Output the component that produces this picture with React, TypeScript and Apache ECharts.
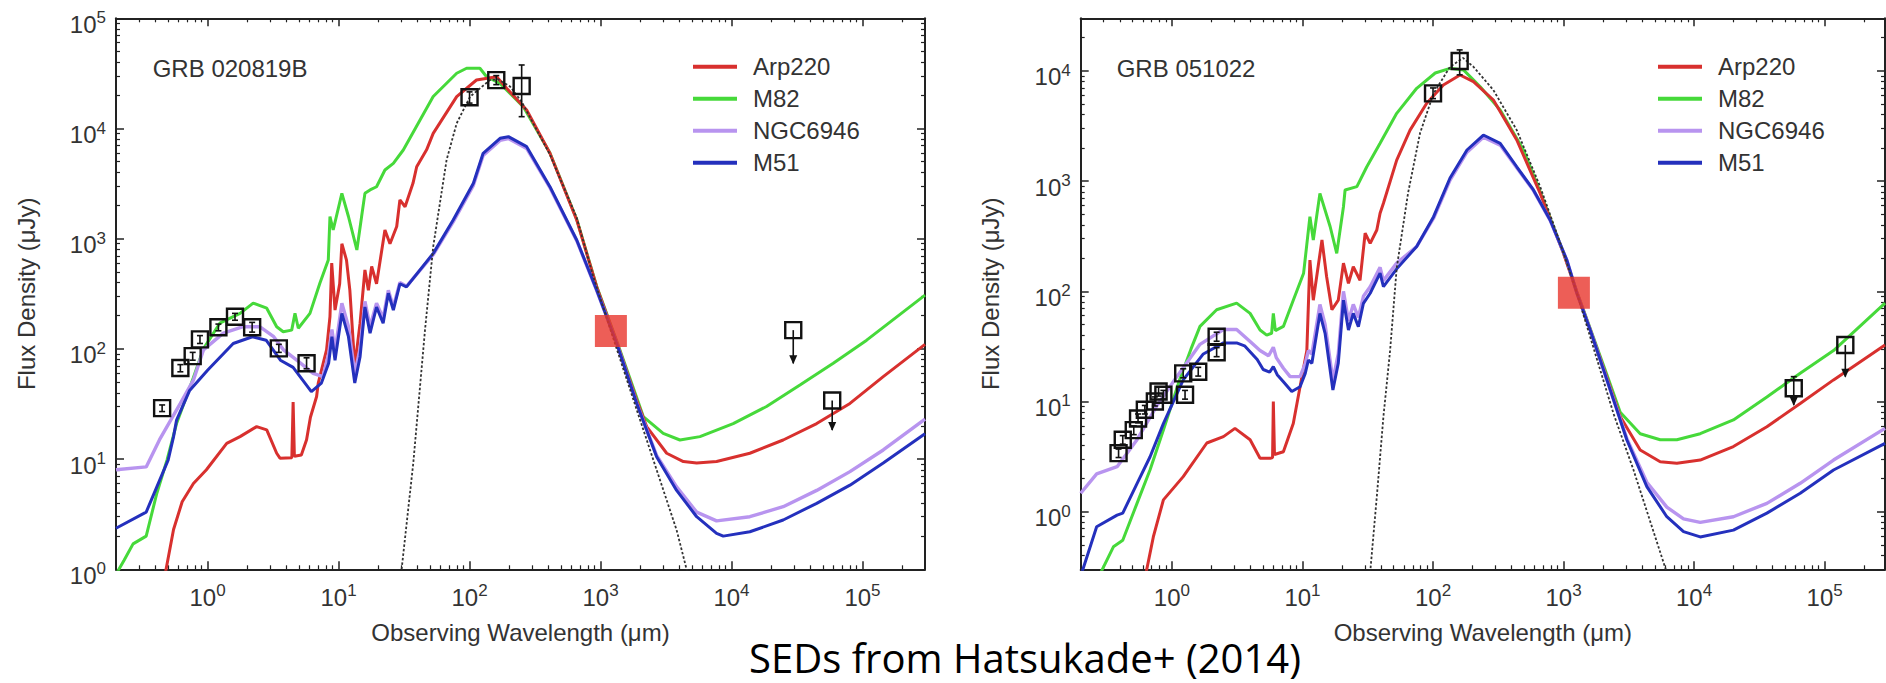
import React, { useEffect, useRef } from 'react';
import * as echarts from 'echarts';

const FONT = "'Liberation Sans', Arial, Helvetica, sans-serif";

// ---------- Data (wavelength in um, flux density in uJy) ----------
const templateNames = ['Arp220', 'M82', 'NGC6946', 'M51'];

// GRB 020819B
const grbA_Arp220 = [
  [0.47, 0.85], [0.55, 2.3], [0.64, 4.1], [0.78, 6.0], [0.98, 8.0], [1.4, 13.9], [1.77, 16], [2.37, 19.7],
  [2.83, 18.4], [3.37, 11.3], [3.57, 10.2], [4.4, 10.3], [4.5, 33], [4.6, 10.6], [5.2, 10.9], [5.7, 15],
  [6.1, 24], [6.8, 37], [7.0, 49], [8.1, 98], [8.6, 196], [8.87, 600], [9.4, 225], [10.2, 390], [10.6, 900],
  [11.5, 640], [12.2, 340], [13.3, 69], [14.6, 171], [15.9, 520], [16.9, 340], [17.9, 560], [19.5, 390],
  [22.6, 1200], [24.7, 900], [27.8, 1290], [29.4, 2250], [32.2, 1950], [37, 3180], [39.5, 4500], [47, 6400],
  [52.8, 9040], [79.8, 19450], [113, 27540], [161, 29500], [192, 23170], [273, 14720], [411, 5960],
  [658, 1480], [934, 367], [1330, 115], [1890, 34], [2250, 19.7], [3200, 11.3], [4290, 9.5], [5420, 9.2],
  [7690, 9.5], [13800, 11.3], [24800, 14.9], [44700, 21], [80200, 32], [144000, 56], [300000, 110],
];
const grbA_M82 = [
  [0.2, 0.9], [0.23, 1.2], [0.27, 1.7], [0.34, 2.0], [0.41, 4.9], [0.49, 9.8], [0.58, 21], [0.78, 55],
  [0.93, 100], [1.24, 171], [1.77, 210], [2.23, 260], [2.83, 234], [3.37, 159], [3.78, 143], [4.39, 148],
  [4.65, 210], [4.93, 154], [6.05, 210], [7.2, 394], [8.35, 640], [8.6, 1590], [9.1, 1200], [10.6, 2580],
  [11.9, 1590], [13.8, 790], [15.0, 1590], [15.9, 2580], [17.4, 2770], [19.5, 2960], [22.6, 4200],
  [26.2, 4830], [31.2, 6380], [41.8, 11900], [52.8, 19500], [79.8, 31700], [95, 35200], [120, 35200],
  [135, 29500], [171, 25700], [257, 15800], [411, 6000], [658, 1500], [934, 370], [1330, 118], [1890, 36],
  [2120, 24.3], [3010, 17.1], [4040, 14.9], [5740, 16], [10300, 21], [18500, 30], [33300, 47], [59800, 74],
  [107600, 120], [300000, 308],
];
const grbA_NGC6946 = [
  [0.2, 8.0], [0.34, 8.5], [0.43, 15], [0.62, 32], [0.78, 52], [0.93, 98], [1.32, 139], [1.87, 159],
  [2.5, 159], [3.2, 129], [3.8, 98], [4.8, 79], [6.4, 60], [7.6, 56], [8.4, 90], [8.9, 150], [9.4, 95],
  [10.6, 260], [11.9, 160], [13.3, 60], [14.6, 100], [15.9, 270], [17.4, 160], [19.5, 260], [21.9, 190],
  [24, 340], [26.2, 240], [29.4, 400], [33, 370], [53, 720], [75, 1420], [107, 3050], [127, 5700],
  [171, 7800], [198, 8100], [273, 6600], [411, 2900], [658, 960], [934, 340], [1330, 112], [1890, 32],
  [2680, 10.8], [3810, 5.6], [5420, 3.3], [7690, 2.75], [13800, 3.0], [24800, 3.7], [44700, 5.2],
  [80200, 7.7], [144000, 12.1], [300000, 23],
];
const grbA_M51 = [
  [0.2, 2.36], [0.34, 3.3], [0.41, 5.6], [0.5, 9.8], [0.55, 16], [0.58, 22.6], [0.73, 42], [1.0, 64],
  [1.57, 112], [2.2, 129], [2.8, 120], [3.6, 79], [4.5, 68], [6.2, 41], [7.4, 49], [8.4, 74], [8.9, 129],
  [9.4, 79], [10.6, 210], [11.9, 129], [13.3, 49], [14.6, 85], [15.9, 240], [17.4, 139], [19.5, 240],
  [21.9, 171], [24, 320], [26.2, 225], [29.4, 390], [33, 365], [53, 740], [75, 1480], [107, 3180],
  [127, 5960], [171, 8150], [198, 8430], [273, 6840], [411, 2965], [658, 973], [934, 342], [1330, 112],
  [1890, 32], [2680, 10.5], [3810, 5.2], [5420, 3.0], [7690, 2.12], [8650, 2.0], [13800, 2.19],
  [24800, 2.8], [44700, 3.97], [80200, 5.8], [144000, 9.2], [300000, 17],
];
const grbA_dust = [
  [30.3, 1.0], [37.2, 9.2], [45.7, 148], [52.8, 846], [66.8, 5180], [79.8, 11150], [101, 19450],
  [143, 27500], [165, 28000], [204, 24000], [250, 17500], [411, 5800], [658, 1550], [881, 452],
  [1200, 145], [1890, 28], [2680, 8.0], [3810, 2.27], [4540, 1.0], [4800, 0.8],
];
// [wavelength, flux, low, high, upperLimit]
const grbA_obs = [
  [0.45, 29, 27, 31, 0], [0.62, 67, 62, 72, 0], [0.77, 86, 79, 93, 0], [0.875, 122, 112, 132, 0],
  [1.21, 157, 146, 168, 0], [1.62, 196, 182, 210, 0], [2.19, 157, 142, 174, 0], [3.5, 101, 93, 110, 0],
  [5.7, 74, 66, 83, 0], [100, 19200, 17000, 21500, 0], [160, 27500, 25000, 30200, 0],
  [250, 24300, 12800, 37700, 0], [29600, 148, 74, 148, 1], [58700, 34, 18.4, 34, 1],
];
const grbA_alma = [[1200, 145]];

// GRB 051022
const grbB_Arp220 = [
  [0.63, 0.27], [0.72, 0.59], [0.86, 1.28], [1.22, 2.08], [1.85, 4.2], [2.48, 4.8], [3.04, 5.7], [3.97, 4.5],
  [4.73, 3.05], [5.65, 3.05], [5.9, 3.1], [5.98, 10], [6.1, 3.3], [7.14, 3.5], [8.5, 6.3], [9.58, 13.6],
  [10.8, 29], [11.4, 192], [12.1, 83], [14.1, 292], [15.3, 136], [16.8, 68], [18.8, 83], [20.6, 180],
  [22.5, 118], [24.5, 167], [27.6, 126], [30.2, 336], [33, 272], [37.1, 360], [39.3, 510], [41.7, 630],
  [52.7, 1550], [66.7, 2900], [89.5, 5080], [120, 7450], [161, 9180], [204, 7980], [290, 5440], [438, 2360],
  [662, 774], [998, 221], [1265, 98], [1600, 45], [2148, 16.5], [2716, 7.3], [3864, 3.63], [5500, 2.84],
  [7380, 2.75], [11140, 2.94], [20000, 3.9], [36100, 5.9], [65000, 9.6], [117000, 15.7], [290000, 32.5],
];
const grbB_M82 = [
  [0.285, 0.28], [0.356, 0.48], [0.42, 0.55], [0.54, 1.19], [0.68, 2.4], [0.86, 5.5], [1.15, 16], [1.4, 30],
  [1.64, 48], [2.2, 68], [3.13, 78], [3.97, 63], [4.73, 44.5], [5.32, 40], [5.8, 41.6], [5.98, 63], [6.2, 44],
  [7.14, 48], [8.5, 83], [10.2, 146], [11.4, 475], [12.1, 292], [13.6, 774], [16.3, 385], [18.3, 221],
  [20.6, 585], [21.2, 830], [26.1, 890], [31.1, 1350], [39.3, 2200], [52.7, 4120], [75, 6950], [104, 9570],
  [135, 10550], [171, 10200], [230, 7180], [327, 4415], [493, 1914], [662, 800], [998, 225], [1265, 99],
  [1600, 46], [2148, 17.5], [2716, 8.0], [3864, 5.1], [5500, 4.5], [7380, 4.5], [11140, 5.1], [20000, 6.8],
  [36100, 11], [65000, 18], [117000, 29], [290000, 78],
];
const grbB_NGC6946 = [
  [0.2, 1.47], [0.265, 2.2], [0.38, 2.56], [0.54, 4.5], [0.76, 9.0], [1.09, 16.8], [1.64, 33], [2.48, 45],
  [3.13, 45], [3.97, 35], [4.73, 29], [5.5, 26], [5.98, 31], [6.3, 25], [7.14, 20], [8.04, 16.8], [9.58, 16.8],
  [10.5, 22], [11.1, 29], [11.8, 27], [13.6, 76], [14.9, 50], [17.1, 15.5], [18.8, 27], [20.6, 100],
  [22.5, 54], [24.5, 76], [26.8, 58], [29.3, 90], [33, 110], [39.3, 165], [41.7, 125], [52.7, 180],
  [75, 255], [101, 460], [135, 1020], [182, 1830], [243, 2500], [327, 2120], [438, 1320], [588, 820],
  [789, 440], [1059, 192], [1265, 96], [1600, 44.5], [2148, 15.7], [3055, 4.6], [4345, 1.85], [6180, 1.1],
  [8300, 0.86], [11140, 0.8], [20000, 0.9], [36100, 1.19], [65000, 1.81], [117000, 2.94], [290000, 5.7],
];
const grbB_M51 = [
  [0.2, 0.26], [0.265, 0.73], [0.38, 0.93], [0.42, 0.97], [0.54, 1.8], [0.68, 3.15], [0.86, 6.3], [1.22, 15.7],
  [1.74, 27], [2.48, 34], [3.13, 34], [3.6, 32], [4.0, 28], [4.5, 24], [5.0, 19.5], [5.6, 18.5], [5.98, 20.7],
  [6.4, 17.5], [7.14, 15.1], [8.28, 12.3], [9.58, 13.6], [10.5, 18], [11.1, 23.8], [11.8, 22.2], [13.6, 63],
  [14.9, 41.6], [17.1, 12.7], [18.8, 22.2], [20.6, 83], [22.5, 44.5], [24.5, 63], [26.8, 47.7], [29.3, 77.8],
  [33, 96], [39.3, 146], [41.7, 110], [52.7, 160], [75, 255], [101, 475], [135, 1066], [182, 1914],
  [243, 2618], [327, 2203], [438, 1349], [588, 830], [789, 443], [1059, 192], [1265, 96], [1600, 44.5],
  [2148, 15.7], [3055, 4.47], [4345, 1.69], [6180, 0.9], [8300, 0.66], [11140, 0.59], [20000, 0.68],
  [36100, 0.97], [65000, 1.47], [117000, 2.39], [290000, 4.17],
];
const grbB_dust = [
  [33, 0.28], [37.1, 1.37], [41.7, 7.3], [46.9, 29], [52.7, 163], [64.4, 780], [79.6, 2730], [101, 6250],
  [135, 10900], [170, 13100], [204, 10900], [290, 6700], [438, 2900], [662, 890], [925, 292], [1265, 96],
  [2410, 7.8], [3430, 2.4], [6180, 0.28],
];
const grbB_obs = [
  [0.39, 3.4, 3.1, 3.7, 0], [0.42, 4.5, 4.1, 4.9, 0], [0.51, 5.5, 5.0, 6.0, 0], [0.55, 7.0, 6.4, 7.7, 0],
  [0.62, 8.4, 7.7, 9.2, 0], [0.74, 10, 9.1, 11, 0], [0.79, 12.3, 11.2, 13.5, 0], [0.86, 11.5, 10.5, 12.6, 0],
  [1.22, 18, 16.4, 19.8, 0], [1.26, 11.5, 10.5, 12.6, 0], [1.59, 18.6, 17, 20.4, 0], [2.2, 28, 25.5, 30.8, 0],
  [2.2, 38.7, 35.2, 42.5, 0], [100, 6250, 5600, 7000, 0], [160, 12300, 9200, 15500, 0],
  [58000, 13.2, 9.3, 16.8, 1], [144000, 32.5, 16.8, 32.5, 1],
];
const grbB_alma = [[1200, 97]];

// ---------- Styles ----------
const COLORS: Record<string, string> = {
  Arp220: '#d8302e',
  M82: '#46d93a',
  NGC6946: '#b894ef',
  M51: '#2430bd',
};
const INK = '#222';
const TEXT = '#333';

function labelFmt(v: number) {
  const l = Math.log10(v);
  const e = Math.round(l);
  if (Math.abs(l - e) > 0.01) return '';
  return '{b|10}{s|' + e + '}';
}
const labelRich = {
  b: { fontSize: 24, fontFamily: FONT, color: TEXT, lineHeight: 30 },
  s: { fontSize: 17, fontFamily: FONT, color: TEXT, lineHeight: 17, verticalAlign: 'top' },
};

function axisBase(gridIndex: number, position: string, min: number, max: number) {
  return {
    type: 'log',
    logBase: 10,
    gridIndex,
    position,
    min,
    max,
    axisLine: { show: true, onZero: false, lineStyle: { color: INK, width: 2 } },
    axisTick: { show: true, inside: true, length: 8, lineStyle: { color: INK, width: 1.5 } },
    minorTick: { show: true, splitNumber: 9, length: 4, lineStyle: { color: INK, width: 1.2 } },
    splitLine: { show: false },
    minorSplitLine: { show: false },
  };
}

function xAxisDef(gridIndex: number, position: string, min: number, max: number, main: boolean) {
  const a: any = axisBase(gridIndex, position, min, max);
  if (main) {
    a.axisLabel = { show: true, formatter: labelFmt, rich: labelRich, margin: 13, showMinLabel: false, showMaxLabel: false };
    a.name = 'Observing Wavelength (\u03bcm)';
    a.nameLocation = 'middle';
    a.nameGap = 51;
    a.nameTextStyle = { fontSize: 24, fontFamily: FONT, color: TEXT };
  } else {
    a.axisLabel = { show: false };
  }
  return a;
}

function yAxisDef(gridIndex: number, position: string, min: number, max: number, main: boolean) {
  const a: any = axisBase(gridIndex, position, min, max);
  if (main) {
    a.axisLabel = { show: true, formatter: labelFmt, rich: labelRich, margin: 10, padding: [12, 0, 0, 0] };
    a.name = 'Flux Density (\u03bcJy)';
    a.nameLocation = 'middle';
    a.nameGap = 78;
    a.nameTextStyle = { fontSize: 24, fontFamily: FONT, color: TEXT };
  } else {
    a.axisLabel = { show: false };
  }
  return a;
}

function lineSeries(name: string, data: number[][], xi: number, yi: number, width: number) {
  const color = COLORS[name];
  return {
    type: 'line', name, data, xAxisIndex: xi, yAxisIndex: yi,
    showSymbol: false, symbol: 'none', color, clip: true, silent: true,
    itemStyle: { color },
    lineStyle: { color, width },
  };
}

function dustSeries(data: number[][], xi: number, yi: number) {
  return {
    type: 'line', name: 'dust', data, xAxisIndex: xi, yAxisIndex: yi,
    showSymbol: false, symbol: 'none', clip: true, silent: true, color: '#333',
    lineStyle: { color: '#333', width: 1.8, type: [2.5, 2] },
  };
}

function obsSeries(data: number[][], xi: number, yi: number) {
  return {
    type: 'custom', name: 'obs', data, xAxisIndex: xi, yAxisIndex: yi, silent: true, z: 10,
    encode: { x: 0, y: 1 },
    renderItem: (params: any, api: any) => {
      const lam = api.value(0), f = api.value(1), lo = api.value(2), hi = api.value(3), ul = api.value(4);
      const c = api.coord([lam, f]);
      const pLo = api.coord([lam, lo]);
      const pHi = api.coord([lam, hi]);
      const h = 8;
      const stroke = '#111';
      const children: any[] = [
        { type: 'rect', shape: { x: c[0] - h, y: c[1] - h, width: 2 * h, height: 2 * h }, style: { fill: 'none', stroke, lineWidth: 2.4 } },
        { type: 'line', shape: { x1: c[0], y1: pHi[1], x2: c[0], y2: pLo[1] }, style: { stroke, lineWidth: 1.6 } },
      ];
      if (ul) {
        children.push({ type: 'polygon', shape: { points: [[c[0] - 4, pLo[1] - 8], [c[0] + 4, pLo[1] - 8], [c[0], pLo[1] + 1]] }, style: { fill: stroke } });
        if (hi > f) children.push({ type: 'line', shape: { x1: c[0] - 3, y1: pHi[1], x2: c[0] + 3, y2: pHi[1] }, style: { stroke, lineWidth: 1.6 } });
      } else {
        children.push({ type: 'line', shape: { x1: c[0] - 3, y1: pHi[1], x2: c[0] + 3, y2: pHi[1] }, style: { stroke, lineWidth: 1.6 } });
        children.push({ type: 'line', shape: { x1: c[0] - 3, y1: pLo[1], x2: c[0] + 3, y2: pLo[1] }, style: { stroke, lineWidth: 1.6 } });
      }
      return { type: 'group', children };
    },
  };
}

function almaSeries(data: number[][], xi: number, yi: number) {
  return {
    type: 'scatter', name: 'ALMA', data, xAxisIndex: xi, yAxisIndex: yi, silent: true, z: 11,
    symbol: 'rect', symbolSize: 32, itemStyle: { color: '#e8362d' },
  };
}

function legendDef(left: number) {
  return {
    data: templateNames, orient: 'vertical', left, top: 54.7, padding: 0, itemGap: 8,
    itemWidth: 44, itemHeight: 4, icon: 'rect', selectedMode: false,
    textStyle: { fontSize: 24, fontFamily: FONT, color: TEXT, lineHeight: 24, padding: [0, 0, 0, 11] },
  };
}

function buildOption() {
  const series: any[] = [];
  const order = ['M82', 'Arp220', 'NGC6946', 'M51'];
  const setA: Record<string, number[][]> = { Arp220: grbA_Arp220, M82: grbA_M82, NGC6946: grbA_NGC6946, M51: grbA_M51 };
  const setB: Record<string, number[][]> = { Arp220: grbB_Arp220, M82: grbB_M82, NGC6946: grbB_NGC6946, M51: grbB_M51 };
  order.forEach((n) => series.push(lineSeries(n, setA[n], 0, 0, n === 'NGC6946' ? 3.4 : 3)));
  series.push(dustSeries(grbA_dust, 0, 0));
  series.push(obsSeries(grbA_obs, 0, 0));
  series.push(almaSeries(grbA_alma, 0, 0));
  order.forEach((n) => series.push(lineSeries(n, setB[n], 2, 2, n === 'NGC6946' ? 3.4 : 3)));
  series.push(dustSeries(grbB_dust, 2, 2));
  series.push(obsSeries(grbB_obs, 2, 2));
  series.push(almaSeries(grbB_alma, 2, 2));

  return {
    animation: false,
    backgroundColor: '#ffffff',
    textStyle: { fontFamily: FONT },
    grid: [
      { left: 116, top: 18.3, width: 809, height: 551 },
      { left: 1080.7, top: 18.3, width: 804.3, height: 551 },
    ],
    xAxis: [
      xAxisDef(0, 'bottom', 0.2, 3e5, true),
      xAxisDef(0, 'top', 0.2, 3e5, false),
      xAxisDef(1, 'bottom', 0.2, 2.9e5, true),
      xAxisDef(1, 'top', 0.2, 2.9e5, false),
    ],
    yAxis: [
      yAxisDef(0, 'left', 1, 1e5, true),
      yAxisDef(0, 'right', 1, 1e5, false),
      yAxisDef(1, 'left', 0.3, 3e4, true),
      yAxisDef(1, 'right', 0.3, 3e4, false),
    ],
    legend: [legendDef(693), legendDef(1658)],
    graphic: [
      { type: 'text', x: 152.7, y: 68.3, silent: true, style: { text: 'GRB 020819B', font: `24px ${FONT}`, fill: TEXT, verticalAlign: 'middle' } },
      { type: 'text', x: 1116.7, y: 68.3, silent: true, style: { text: 'GRB 051022', font: `24px ${FONT}`, fill: TEXT, verticalAlign: 'middle' } },
      { type: 'text', x: 1025, y: 657, silent: true, style: { text: 'SEDs from Hatsukade+ (2014)', font: `40px 'Open Sans', sans-serif`, lineHeight: 40, fill: '#000', align: 'center', verticalAlign: 'middle' } },
    ],
    series,
  };
}

export default function App() {
  const ref = useRef<HTMLDivElement | null>(null);
  useEffect(() => {
    if (!ref.current) return;
    const chart = echarts.init(ref.current, undefined, { renderer: 'svg' });
    chart.setOption(buildOption() as any);
    return () => chart.dispose();
  }, []);
  return (
    <div
      ref={ref}
      style={{ position: 'fixed', left: 0, top: 0, width: 1886, height: 683, background: '#fff' }}
    />
  );
}
